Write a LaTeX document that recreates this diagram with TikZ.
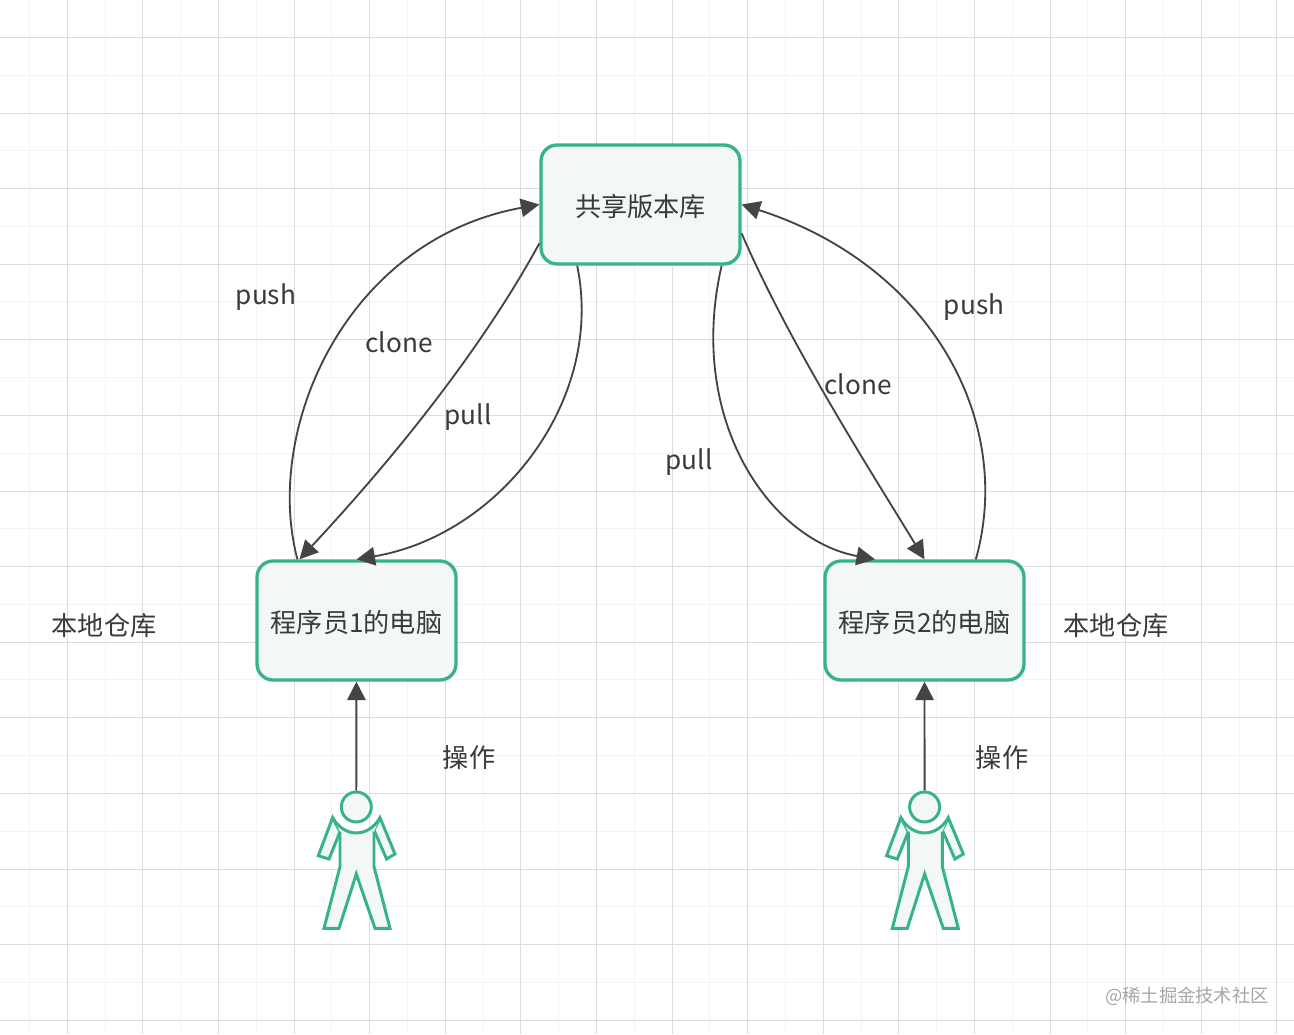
\documentclass[tikz,border=0pt]{standalone}
\usepackage{fontspec}
\setmainfont{Noto Sans CJK SC}
\usetikzlibrary{arrows.meta}
\definecolor{boxgreen}{HTML}{36B38E}
\definecolor{boxfill}{HTML}{F3F7F6}
\definecolor{flowgray}{HTML}{444444}
\definecolor{labelgray}{HTML}{3A3A3A}
\tikzset{
  machine/.style={draw=boxgreen,fill=boxfill,line width=1.9pt,rounded corners=0.32cm,
    minimum width=3.98cm,minimum height=2.38cm,inner sep=0pt,text=labelgray},
  headnode/.style={circle,draw=boxgreen,fill=boxfill,line width=1.7pt,minimum size=0.6cm,inner sep=0pt},
  flow/.style={draw=flowgray,line width=1.05pt,-{Triangle[length=10.5pt,width=10.5pt]}},
  tag/.style={text=labelgray,inner sep=0pt},
  limb/.style={draw=boxgreen,fill=boxfill,line width=1.7pt,line join=miter}
}
\newcommand{\boxtext}[1]{\raisebox{-1.1pt}[\height][\depth]{#1}}
% one figure, drawn below its head
\newcommand{\personbody}[1]{
\begin{scope}[shift={(#1,807)}]
\filldraw[limb] (-23.7,10.7) -- (-38,48.7) -- (-27.3,52) -- (-16.3,24.7) -- cycle;
\filldraw[limb] (23.7,10.7) -- (38.7,47) -- (30.3,52) -- (17.7,23) -- cycle;
\fill[boxfill] (-23.7,10.7) .. controls (-12,31) and (12,31) .. (23.7,10.7) -- (17.7,24.7) -- (17.7,59.7)
  -- (33.7,121.3) -- (18.7,121.3) -- (0,67) -- (-17.3,121.3) -- (-32.3,121.3) -- (-16.3,59.7) -- (-16.3,24.7) -- cycle;
\draw[limb,fill=none] (-16.3,24.7) -- (-16.3,59.7) -- (-32.3,121.3) -- (-17.3,121.3) -- (0,67)
  -- (18.7,121.3) -- (33.7,121.3) -- (17.7,59.7) -- (17.7,24.7);
\draw[limb,fill=none,line cap=round] (-23.7,10.7) .. controls (-12,31) and (12,31) .. (23.7,10.7);
\end{scope}
}
\begin{document}
\begin{tikzpicture}[x=0.02cm,y=-0.02cm,every node/.style={font=\fontsize{14.9pt}{17pt}\selectfont}]
\useasboundingbox (0,0) rectangle (1294,1034);
\fill[white] (0,0) rectangle (1294,1034);
% grid
\foreach \i in {0,...,17}{
  \pgfmathsetmacro{\gx}{floor(29.4+75.6*\i)+0.5}
  \draw[gray!9,line width=0.57pt] (\gx,0) -- (\gx,1034);
  \pgfmathsetmacro{\gy}{floor(75+75.6*\i)+0.5}
  \ifdim \gy pt<1034pt \draw[gray!9,line width=0.57pt] (0,\gy) -- (1294,\gy); \fi
}
\foreach \i in {0,...,16}{
  \pgfmathsetmacro{\gx}{floor(67.2+75.6*\i)+0.5}
  \draw[gray!27,line width=0.57pt] (\gx,0) -- (\gx,1034);
}
\foreach \i in {0,...,13}{
  \pgfmathsetmacro{\gy}{floor(37.4+75.6*\i)+0.5}
  \draw[gray!27,line width=0.57pt] (0,\gy) -- (1294,\gy);
}
% boxes
\node[machine] (repo) at (640.5,204.5) {\boxtext{共享版本库}};
\node[machine] (pcone) at (356.5,620.5) {\boxtext{程序员1的电脑}};
\node[machine] (pctwo) at (924.5,620.5) {\boxtext{程序员2的电脑}};
% people
\personbody{356.3}
\personbody{924.6}
\node[headnode] (userone) at (356.3,807) {};
\node[headnode] (usertwo) at (924.6,807) {};
% connectors
\draw[flow] (pcone.134) .. controls (263,430) and (345,240) .. (repo.west);
\draw[flow] (repo.201.8) .. controls (495,325) and (420,430) .. (pcone.133);
\draw[flow] (repo.224) .. controls (605,400) and (500,535) .. (pcone.north);
\draw[flow] (repo.323.6) .. controls (686,420) and (770,540) .. (pctwo.129.5);
\draw[flow] (repo.344.6) .. controls (790,345) and (870,470) .. (pctwo.north);
\draw[flow] (pctwo.50.2) .. controls (1015,420) and (930,265) .. (repo.east);
\draw[flow] (userone) -- (pcone);
\draw[flow] (usertwo) -- (pctwo);
% labels
\node[tag] (pushone) at (266,297) {push};
\node[tag] (cloneone) at (399,342) {clone};
\node[tag] (pullone) at (468,417) {pull};
\node[tag] (pushtwo) at (974,307) {push};
\node[tag] (clonetwo) at (858,384) {clone};
\node[tag] (pulltwo) at (689,462) {pull};
\node[tag] (localone) at (104,625.5) {本地仓库};
\node[tag] (localtwo) at (1116,625.5) {本地仓库};
\node[tag] (opone) at (469,758) {操作};
\node[tag] (optwo) at (1002,758) {操作};
\node[tag,text=gray!70,font=\fontsize{10.4pt}{12pt}\selectfont] (mark) at (1187,996) {@稀土掘金技术社区};
\end{tikzpicture}
\end{document}
